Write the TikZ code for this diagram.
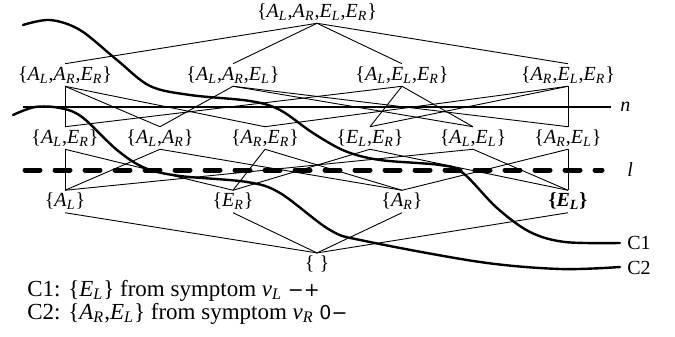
\documentclass[tikz,border=0pt]{standalone}
\usepackage{fontspec}
\setmainfont{Liberation Serif}
\newfontfamily\symf{DejaVu Sans}
\newcommand\AL{\textit{A}\textsubscript{\textit{L}}}
\newcommand\AR{\textit{A}\textsubscript{\textit{R}}}
\newcommand\EL{\textit{E}\textsubscript{\textit{L}}}
\newcommand\ER{\textit{E}\textsubscript{\textit{R}}}
\begin{document}
\begin{tikzpicture}[x=0.5pt,y=-0.5pt,
  lab/.style={inner xsep=0pt, inner ysep=1.2pt, font=\fontsize{10}{12}\selectfont},
  edge/.style={line width=0.45pt},
  cutline/.style={line width=1.2pt, line cap=round},
  nline/.style={line width=1pt},
  lline/.style={line width=2.5pt, line cap=round, dash pattern=on 7.5pt off 7.5pt},
  txt/.style={inner sep=0pt, font=\fontsize{10}{12}\selectfont},
  captxt/.style={inner sep=0pt, font=\fontsize{11.5}{14}\selectfont}]
\useasboundingbox (0,0) rectangle (675,337);
% nodes
\node[lab] (top) at (317,12) {\{\AL,\AR,\EL,\ER\}};
\node[lab] (alarer) at (65,75) {\{\AL,\AR,\ER\}};
\node[lab] (alarel) at (233,75) {\{\AL,\AR,\EL\}};
\node[lab] (alelar) at (402,75) {\{\AL,\EL,\ER\}};
\node[lab] (arelar) at (568,75) {\{\AR,\EL,\ER\}};
\node[lab] (aler) at (65,138) {\{\AL,\ER\}};
\node[lab] (alar) at (160,138) {\{\AL,\AR\}};
\node[lab] (arer) at (265,138) {\{\AR,\ER\}};
\node[lab] (eler) at (370,138) {\{\EL,\ER\}};
\node[lab] (alel) at (473,138) {\{\AL,\EL\}};
\node[lab] (arel) at (568,138) {\{\AR,\EL\}};
\node[lab] (al) at (65,201.5) {\{\AL\}};
\node[lab] (er) at (233,201.5) {\{\ER\}};
\node[lab] (ar) at (402,201.5) {\{\AR\}};
\node[lab] (el) at (568,201.5) {\textbf{\{\textit{E}\textsubscript{\textit{L}}\}}};
\node[lab] (bot) at (317,264) {\{ \}};
% edges top
\foreach \n in {alarer,alarel,alelar,arelar} \draw[edge] (top.south) -- (\n.north);
% level 3 -> 2 -> 1
\foreach \a/\b in {alarer/aler,alarer/alar,alarer/arer,
  alarel/alar,alarel/alel,alarel/arel,
  alelar/aler,alelar/eler,alelar/alel,
  arelar/arer,arelar/eler,arelar/arel,
  aler/al,aler/er,alar/al,alar/ar,arer/ar,arer/er,
  eler/er,eler/el,alel/al,alel/el,arel/ar,arel/el}
  \draw[edge] (\a.south) -- (\b.north);
\foreach \n in {al,er,ar,el} \draw[edge] (\n.south) -- (bot.north);
% cut lines
\coordinate (ns) at (23,107);
\coordinate (ne) at (611,107);
\draw[nline] (ns) -- (ne);
\node[txt, anchor=west] (nl) at (620,107) {\textit{n}};
\coordinate (ls) at (25,170);
\coordinate (le) at (602,170);
\draw[lline] (ls) -- (le);
\node[txt, anchor=west] (ll) at (627,170) {\textit{l}};
% curves
\coordinate (c1e) at (620,243);
\coordinate (c2e) at (620,267);
\draw[cutline] plot[smooth, tension=0.55] coordinates {(23,25) (50,20) (80,30) (117,60) (150,86) (190,95) (250,101) (280,110) (313,133) (345,151) (380,160) (440,165) (463,173) (497,208) (530,232) (565,242) (c1e)};
\draw[cutline] plot[smooth, tension=0.55] coordinates {(13,115) (35,107) (60,108) (82,117) (117,150) (145,168) (180,176) (247,182) (280,193) (330,230) (365,241) (480,262) (560,269) (c2e)};
\node[txt, anchor=west] (c1l) at (627,243) {C1};
\node[txt, anchor=west] (c2l) at (627,268) {C2};
% captions
\node[captxt, anchor=base west] (cap1) at (27,296) {C1: \{\EL\} from symptom \textit{v}\textsubscript{\textit{L}} {\symf\fontsize{9.5}{10}\selectfont −+}};
\node[captxt, anchor=base west] (cap2) at (27,319) {C2: \{\AR,\EL\} from symptom \textit{v}\textsubscript{\textit{R}} {\symf\fontsize{9.5}{10}\selectfont 0−}};
\end{tikzpicture}
\end{document}
